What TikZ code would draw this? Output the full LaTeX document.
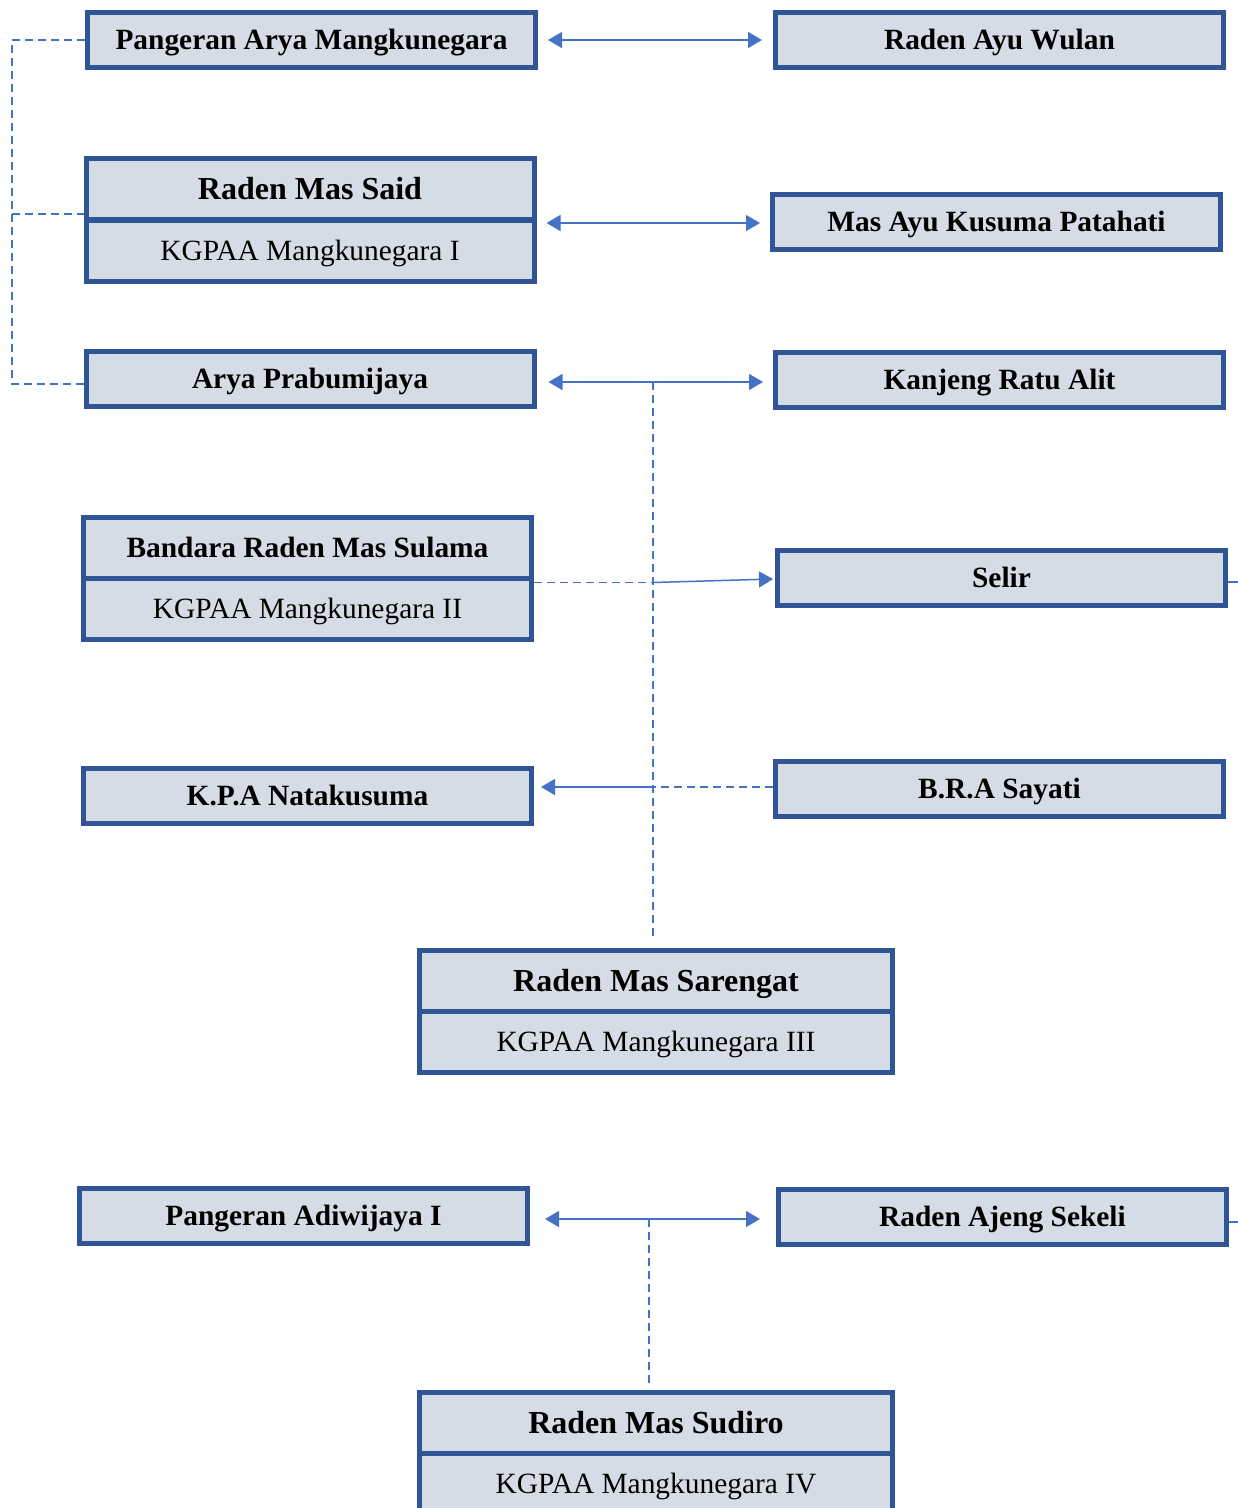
\documentclass[tikz,border=0pt]{standalone}
\usepackage{fontspec}
\setmainfont{Liberation Serif}
\usetikzlibrary{arrows.meta,calc}
\definecolor{bdr}{HTML}{2F5597}
\definecolor{boxfill}{HTML}{D6DCE5}
\definecolor{conn}{HTML}{4472C4}
\begin{document}
\begin{tikzpicture}[x=1pt,y=-1pt,
  box/.style={draw=bdr, fill=boxfill, line width=5pt, minimum width=448pt, minimum height=55pt, inner sep=0pt, text height=19.5pt, text depth=0pt, font=\fontsize{29.4}{33}\selectfont\bfseries},
  topbox/.style={box, minimum height=61pt},
  bigname/.style={text height=21pt, font=\fontsize{32}{36}\selectfont\bfseries},
  subbox/.style={box, minimum height=61pt, font=\fontsize{29.4}{33}\selectfont},
  wide/.style={minimum width=473pt},
  solidc/.style={draw=conn, line width=1.5pt},
  dashc/.style={draw=conn, line width=1.6pt, dash pattern=on 8pt off 5pt},
  tip/.style={-{Triangle[length=14pt,width=16pt]}},
  bitip/.style={{Triangle[length=14pt,width=16pt]}-{Triangle[length=14pt,width=16pt]}}
]
\clip (0,0) rectangle (1238,1508);
\fill[white] (0,0) rectangle (1238,1508);

% nodes
\node[box] (pam) at (311.5,40) {Pangeran Arya Mangkunegara};
\node[box] (raw) at (999.5,40) {Raden Ayu Wulan};
\node[topbox,bigname] (rmsT) at (310,189) {Raden Mas Said};
\node[subbox] (rmsB) at (310,250.5) {KGPAA Mangkunegara I};
\node[box] (maks) at (996.5,222) {Mas Ayu Kusuma Patahati};
\node[box] (ap) at (310,379) {Arya Prabumijaya};
\node[box] (kra) at (999.5,380) {Kanjeng Ratu Alit};
\node[topbox] (brmsT) at (307.5,547.5) {Bandara Raden Mas Sulama};
\node[subbox] (brmsB) at (307.5,609) {KGPAA Mangkunegara II};
\node[box] (selir) at (1001.5,578) {Selir};
\node[box] (kpa) at (307.5,796) {K.P.A Natakusuma};
\node[box] (bra) at (999.5,789) {B.R.A Sayati};
\node[topbox,bigname,wide] (rmsarT) at (656,981) {Raden Mas Sarengat};
\node[subbox,wide] (rmsarB) at (656,1042) {KGPAA Mangkunegara III};
\node[box] (paw) at (303.5,1216) {Pangeran Adiwijaya I};
\node[box] (rajs) at (1002.5,1217) {Raden Ajeng Sekeli};
\node[topbox,bigname,wide] (rmsudT) at (656,1422.5) {Raden Mas Sudiro};
\node[subbox,wide] (rmsudB) at (656,1483.5) {KGPAA Mangkunegara IV};

% left dashed bracket
\coordinate (lx) at (12,0);
\draw[dashc] (pam.west) -- (lx |- pam.west) -- ($(lx |- ap.west)+(0,5)$) -- ($(ap.west)+(0,5)$);
\draw[dashc] ($(lx |- rmsT.west)+(0,25)$) -- ($(rmsT.west)+(0,25)$);

% couples
\draw[solidc,bitip] ($(pam.east)+(10,0)$) -- ($(raw.west)+(-11,0)$);
\draw[solidc,bitip] ($(rmsT.east |- maks.west)+(10,1)$) -- ($(maks.west)+(-10,1)$);
\coordinate (apA) at ($(ap.east)+(12,3)$);
\coordinate (kraA) at ($(kra.west)+(-10,2)$);
\draw[solidc,bitip] (apA) -- (kraA);
\coordinate (v1) at (653,382);
\coordinate (v1end) at ($(v1 |- rmsarT.north)+(0,-8)$);
\draw[dashc] (v1) -- (v1end);

% Sulama -> Selir
\coordinate (j1) at ($(v1 |- brmsT.south)+(0,2)$);
\draw[dashc] ($(brmsT.south east)+(0,2)$) -- (j1);
\draw[solidc,tip] (j1) -- ($(selir.west)+(-2,1)$);

% Sayati -> Natakusuma
\coordinate (j2) at ($(v1 |- bra.west)+(0,-2)$);
\draw[dashc] ($(bra.west)+(0,-2)$) -- (j2);
\draw[solidc,tip] (j2) -- ($(kpa.east |- j2)+(7,0)$);

% Adiwijaya <-> Sekeli
\coordinate (pawA) at ($(paw.east)+(15,3)$);
\coordinate (rajsA) at ($(rajs.west)+(-16,2)$);
\draw[solidc,bitip] (pawA) -- (rajsA);
\coordinate (v2) at (649,1219);
\draw[dashc] (v2) -- ($(v2 |- rmsudT.north)+(0,-7)$);

% stubs at right edge
\coordinate (edgeA) at (1238,582);
\coordinate (edgeB) at (1238,1222);
\draw[solidc] ($(selir.east)+(0,4)$) -- (edgeA);
\draw[solidc] ($(rajs.east)+(0,5)$) -- (edgeB);
\end{tikzpicture}
\end{document}
